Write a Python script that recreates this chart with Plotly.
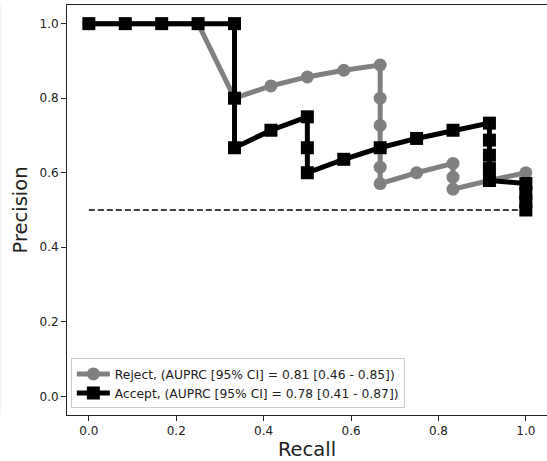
import plotly.graph_objects as go

# Reject (gray circles)
reject_recall = [0.0, 1/12, 2/12, 3/12, 4/12, 5/12, 6/12, 7/12, 8/12, 8/12, 8/12, 8/12, 8/12, 8/12,
                 9/12, 10/12, 10/12, 10/12, 11/12, 1.0]
reject_precision = [1.0, 1.0, 1.0, 1.0, 0.8, 0.833, 0.857, 0.875, 0.889, 0.8, 0.727, 0.667, 0.615, 0.571,
                    0.6, 0.625, 0.588, 0.556, 0.579, 0.6]

# Accept (black squares)
accept_recall = [0.0, 1/12, 2/12, 3/12, 4/12, 4/12, 4/12, 5/12, 6/12, 6/12, 6/12, 7/12, 8/12, 9/12,
                 10/12, 11/12, 11/12, 11/12, 11/12, 11/12, 1.0, 1.0, 1.0, 1.0]
accept_precision = [1.0, 1.0, 1.0, 1.0, 1.0, 0.8, 0.667, 0.714, 0.75, 0.667, 0.6, 0.636, 0.667, 0.692,
                    0.714, 0.733, 0.6875, 0.647, 0.611, 0.579, 0.571, 0.545, 0.522, 0.5]

baseline_x = [0.0, 1.0]
baseline_y = [0.5, 0.5]

x_ticks = [0.0, 0.2, 0.4, 0.6, 0.8, 1.0]
y_ticks = [0.0, 0.2, 0.4, 0.6, 0.8, 1.0]

font = "DejaVu Sans"

fig = go.Figure()
fig.add_trace(go.Scatter(x=baseline_x, y=baseline_y, mode="lines", showlegend=False,
                         line=dict(color="black", width=1.5, dash="6px,3px")))
fig.add_trace(go.Scatter(x=reject_recall, y=reject_precision, mode="lines+markers",
                         name="Reject, (AUPRC [95% CI] = 0.81 [0.46 - 0.85])",
                         line=dict(color="#808080", width=5),
                         marker=dict(symbol="circle", size=13, color="#808080")))
fig.add_trace(go.Scatter(x=accept_recall, y=accept_precision, mode="lines+markers",
                         name="Accept, (AUPRC [95% CI] = 0.78 [0.41 - 0.87])",
                         line=dict(color="black", width=5),
                         marker=dict(symbol="square", size=13, color="black")))

fig.add_shape(type="line", xref="paper", yref="paper", x0=-67/480, x1=-67/480, y0=0.0, y1=1.0,
              line=dict(color="#e8e8e8", width=1))

fig.update_layout(
    width=547, height=461,
    margin=dict(l=67, r=0, t=5, b=46),
    paper_bgcolor="white", plot_bgcolor="white",
    font=dict(family=font, size=12, color="#222"),
    showlegend=True,
    legend=dict(x=0.008, y=0.016, xanchor="left", yanchor="bottom",
                bgcolor="rgba(255,255,255,0.8)", bordercolor="#cccccc", borderwidth=1,
                font=dict(family=font, size=12.3, color="#222"),
                itemwidth=33, tracegroupgap=0),
    xaxis=dict(range=[-0.05, -0.05 + 480/437], tickvals=x_ticks, ticktext=[f"{v:.1f}" for v in x_ticks],
               showgrid=False, zeroline=False, showline=True, linecolor="#222", linewidth=1,
               mirror=True, ticks="outside", ticklen=5, tickcolor="#222",
               tickfont=dict(family=font, size=12, color="#222"),
               title=dict(text="Recall", font=dict(family=font, size=19.5, color="#222"), standoff=4)),
    yaxis=dict(range=[-0.05, 1.05], tickvals=y_ticks, ticktext=[f"{v:.1f}" for v in y_ticks],
               showgrid=False, zeroline=False, showline=True, linecolor="#222", linewidth=1,
               ticks="outside", ticklen=5, tickcolor="#222",
               tickfont=dict(family=font, size=12, color="#222"),
               title=dict(text="Precision", font=dict(family=font, size=19.5, color="#222"), standoff=6)),
)

fig.write_html("out.html")
